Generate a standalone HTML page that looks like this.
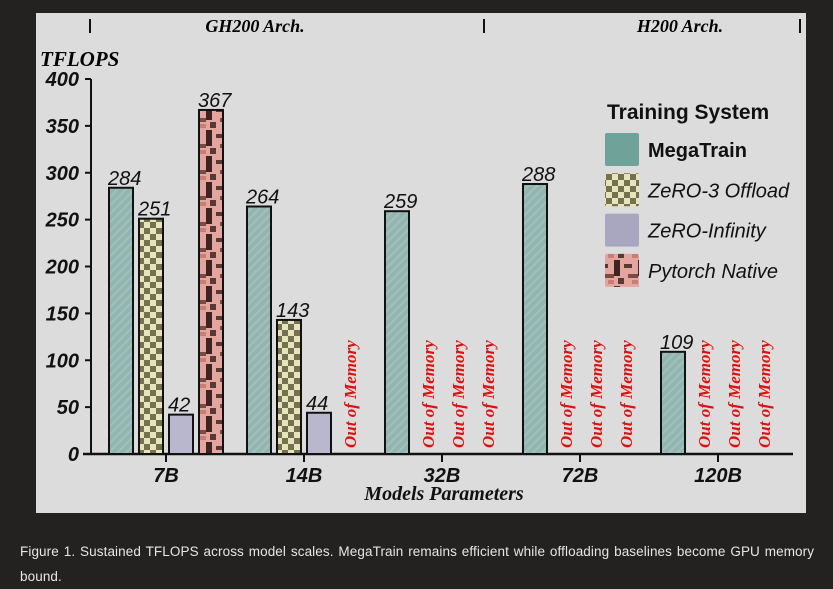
<!DOCTYPE html>
<html><head><meta charset="utf-8">
<style>
body{margin:0;width:833px;height:585px;background:#232220;overflow:hidden;font-family:"Liberation Sans",sans-serif;}
#caption{position:absolute;left:20px;top:539px;width:813px;color:#e6e6e6;font-size:13.5px;line-height:25px;letter-spacing:0.1px;word-spacing:1px;white-space:nowrap;}
svg{position:absolute;left:0;top:0;}
</style></head><body>
<svg id="chart" width="833" height="585">
<defs>
<pattern id="pMega" width="6" height="6" patternUnits="userSpaceOnUse" patternTransform="rotate(45)">
<rect width="6" height="6" fill="#93b5b0"/><rect width="2" height="6" fill="#a2c0bb"/></pattern>
<pattern id="pZ3" width="12" height="12" patternUnits="userSpaceOnUse">
<rect width="12" height="12" fill="#e6e4b8"/><rect width="6" height="6" fill="#737152"/><rect x="6" y="6" width="6" height="6" fill="#737152"/></pattern>
<pattern id="pZI" width="6" height="6" patternUnits="userSpaceOnUse"><rect width="6" height="6" fill="#b9b7cd"/></pattern>
<pattern id="pPT" width="24" height="26" patternUnits="userSpaceOnUse">
<rect width="24" height="26" fill="#e3a59e"/><rect x="0" y="4" width="8" height="4" fill="#5a3835"/><rect x="14" y="0" width="6" height="16" fill="#3d2422"/><rect x="4" y="14" width="10" height="4" fill="#7a4a45"/><rect x="18" y="18" width="6" height="6" fill="#5a3835"/><rect x="8" y="20" width="6" height="4" fill="#c97d75"/></pattern>
</defs>
<rect x="36" y="13" width="770" height="500" fill="#dcdcdc"/>
<g id="plot"></g>
</svg>
<div id="caption">Figure 1. Sustained TFLOPS across model scales. MegaTrain remains efficient while offloading baselines become GPU memory<br>bound.</div>
<script>
const categories=["7B","14B","32B","72B","120B"];
const seriesNames=["MegaTrain","ZeRO-3 Offload","ZeRO-Infinity","Pytorch Native"];
const megaTrain=[284,264,259,288,109];
const zero3=[251,143,null,null,null];
const zeroInf=[42,44,null,null,null];
const pytorchNative=[367,null,null,null,null];
const yTicks=[0,50,100,150,200,250,300,350,400];

const series=[megaTrain,zero3,zeroInf,pytorchNative];
const fills=["url(#pMega)","url(#pZ3)","url(#pZI)","url(#pPT)"];
const legendFills=["#6fa39a","url(#pZ3)","#a9a7c0","url(#pPT)"];
const NS="http://www.w3.org/2000/svg";
const g=document.getElementById("plot");
const y0=454,yScale=375/400;
function yPos(v){return y0-v*yScale;}
function xCat(i){return 166+i*138;}
function mk(tag,attrs,text){const e=document.createElementNS(NS,tag);for(const k in attrs)e.setAttribute(k,attrs[k]);if(text!==undefined)e.textContent=text;g.appendChild(e);return e;}

let e;
e=mk("text",{x:255,y:32,"text-anchor":"middle","font-family":"Liberation Serif, serif","font-weight":"bold","font-style":"italic","font-size":"18"},"GH200 Arch.");


e=mk("text",{x:680,y:32,"text-anchor":"middle","font-family":"Liberation Serif, serif","font-weight":"bold","font-style":"italic","font-size":"18"},"H200 Arch.");


[90,484,800].forEach(x=>{
 e=mk("line",{x1:x,y1:19,x2:x,y2:33,stroke:"#111","stroke-width":2});
 
 
});
e=mk("text",{x:40,y:66,"font-family":"Liberation Serif, serif","font-weight":"bold","font-style":"italic","font-size":"21"},"TFLOPS");



e=mk("line",{x1:91,y1:yPos(400),x2:91,y2:y0+1,stroke:"#111","stroke-width":2});


e=mk("line",{x1:83,y1:y0,x2:793,y2:y0,stroke:"#111","stroke-width":2.5});


yTicks.forEach(t=>{
 e=mk("line",{x1:85,y1:yPos(t),x2:91,y2:yPos(t),stroke:"#111","stroke-width":2});
 
 
 e=mk("text",{x:79,y:yPos(t)+7,"text-anchor":"end","font-weight":"bold","font-style":"italic","font-size":"20","fill":"#111"},String(t));
 
 
});
categories.forEach((c,i)=>{
 const cx=xCat(i);
 e=mk("line",{x1:cx,y1:y0,x2:cx,y2:y0+8,stroke:"#111","stroke-width":2});
 
 
 e=mk("text",{x:cx,y:482,"text-anchor":"middle","font-weight":"bold","font-style":"italic","font-size":"20","fill":"#111"},c);
 
 
 series.forEach((s,si)=>{
  const bx=cx+(si-2)*30+3;
  const v=s[i];
  if(v===null){
   const tx=bx+12+7,ty=448;
   e=mk("text",{x:tx,y:ty,transform:`rotate(-90 ${tx} ${ty})`,"font-family":"Liberation Serif, serif","font-weight":"bold","font-style":"italic","font-size":"17",fill:"#e01010"},"Out of Memory");
   
   
  } else {
   e=mk("rect",{x:bx,y:yPos(v),width:24,height:v*yScale,fill:fills[si],stroke:"#111","stroke-width":2});
   
   
   e=mk("text",{x:bx-1,y:yPos(v)-3,"font-style":"italic","font-size":"20",fill:"#111"},String(v));
   
   
  }
 });
});
e=mk("text",{x:444,y:500,"text-anchor":"middle","font-family":"Liberation Serif, serif","font-weight":"bold","font-style":"italic","font-size":"20",fill:"#111"},"Models Parameters");



e=mk("text",{x:607,y:119,"font-weight":"bold","font-size":"21",fill:"#111"},"Training System");


seriesNames.forEach((n,i)=>{
 const ly=133+i*40.3;
 e=mk("rect",{x:605,y:ly,width:34,height:33,rx:2,fill:legendFills[i]});
 
 
 e=mk("text",{x:648,y:ly+24,"font-size":"20","font-weight":i===0?"bold":"normal","font-style":i===0?"normal":"italic",fill:"#111"},n);
 
 
});
</script>
</body></html>
